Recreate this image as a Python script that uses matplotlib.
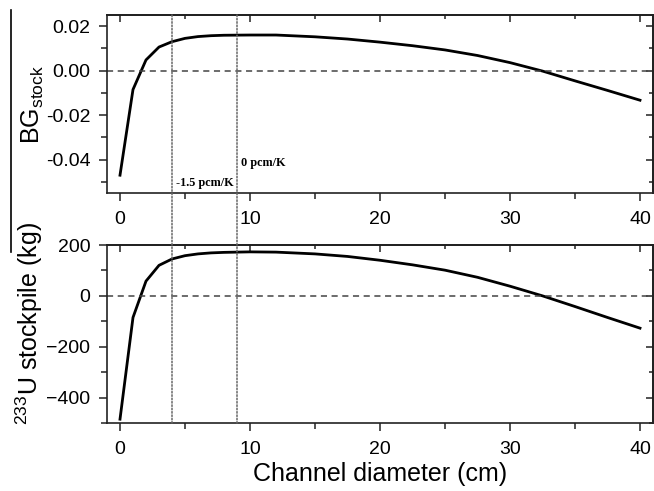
import numpy as np
import matplotlib
matplotlib.use('Agg')
import matplotlib.pyplot as plt
from matplotlib.patches import ConnectionPatch
from matplotlib.lines import Line2D
from matplotlib.ticker import MultipleLocator, FormatStrFormatter

plt.rcParams['font.family'] = ['Liberation Sans', 'DejaVu Sans']
plt.rcParams['mathtext.fontset'] = 'custom'
plt.rcParams['mathtext.rm'] = 'Liberation Sans'

diameter = [0, 1, 2, 3, 4, 5, 6, 7, 8, 10, 12, 15, 17.5, 20, 22.5, 25, 27.5, 30, 32.5, 35, 37.5, 40]
bg_stock = [-0.047, -0.0085, 0.0048, 0.0106, 0.0130, 0.0145, 0.0153, 0.0157, 0.0159, 0.0160, 0.0160,
            0.0152, 0.0142, 0.0128, 0.0112, 0.0093, 0.0068, 0.0036, -0.0002, -0.0046, -0.0089, -0.0133]
u233_stock = [-485, -85, 58, 120, 145, 158, 165, 169, 171, 173, 172,
              165, 155, 140, 122, 101, 73, 38, 0, -42, -85, -127]
marker_x = [4, 9]
marker_labels = ['-1.5 pcm/K', '0 pcm/K']
marker_y = [-0.0505, -0.0415]

fig = plt.figure(figsize=(6.54, 4.91), dpi=100)
ax1 = fig.add_axes([107/654, 1-193/491, 546/654, 178/491])
ax2 = fig.add_axes([107/654, 1-423/491, 546/654, 178/491])

ax1.plot(diameter, bg_stock, color='black', lw=2)
ax2.plot(diameter, u233_stock, color='black', lw=2)
for ax in (ax1, ax2):
    ax.axhline(0, color='#444444', lw=1.1, ls=(0, (4, 3)))
    ax.set_xlim(-1, 41)
    ax.xaxis.set_major_locator(MultipleLocator(10))
    ax.xaxis.set_minor_locator(MultipleLocator(5))
    for s in ax.spines.values():
        s.set_linewidth(1.2)
        s.set_color('#222222')
    ax.tick_params(which='both', direction='out', labelsize=14, width=1.1, color='#222222')
    ax.tick_params(which='major', length=6, pad=7)
    ax.tick_params(which='minor', length=4)
    ax.tick_params(axis='y', pad=6)
    # mirrored ticks on top, pointing in
    sx = ax.secondary_xaxis('top')
    sx.xaxis.set_major_locator(MultipleLocator(10))
    sx.xaxis.set_minor_locator(MultipleLocator(5))
    sx.tick_params(which='both', direction='in', labeltop=False, width=1.1, color='#222222')
    sx.tick_params(which='major', length=5)
    sx.tick_params(which='minor', length=3)
    sx.spines['top'].set_linewidth(1.2)

ax1.set_ylim(-0.055, 0.025)
ax1.yaxis.set_major_locator(MultipleLocator(0.02))
ax1.yaxis.set_minor_locator(MultipleLocator(0.01))
ax1.yaxis.set_major_formatter(FormatStrFormatter('%.2f'))
ax2.set_ylim(-500, 200)
ax2.yaxis.set_major_locator(MultipleLocator(200))
ax2.yaxis.set_minor_locator(MultipleLocator(100))

for ax, maj, mnr in ((ax1, 0.02, 0.01), (ax2, 200, 100)):
    sy = ax.secondary_yaxis('right')
    sy.yaxis.set_major_locator(MultipleLocator(maj))
    sy.yaxis.set_minor_locator(MultipleLocator(mnr))
    sy.tick_params(which='both', direction='in', labelright=False, width=1.1, color='#222222')
    sy.tick_params(which='major', length=5)
    sy.tick_params(which='minor', length=3)
    sy.spines['right'].set_linewidth(1.2)

ax1.set_ylabel(r'BG$_{\mathrm{stock}}$', fontsize=18)
ax1.yaxis.set_label_coords(-0.112, 0.5)
ax2.set_ylabel(r'$^{233}$U stockpile (kg)', fontsize=18)
ax2.yaxis.set_label_coords(-0.114, 0.56)
ax2.set_xlabel('Channel diameter (cm)', fontsize=18, labelpad=3)

# vertical dotted markers through both panels
for xv in marker_x:
    con = ConnectionPatch(xyA=(xv, 0.025), coordsA='data', axesA=ax1,
                          xyB=(xv, -500), coordsB='data', axesB=ax2,
                          color='#666666', lw=1.1, ls=(0, (1, 1.2)))
    fig.add_artist(con)

for xv, yv, lab in zip(marker_x, marker_y, marker_labels):
    ax1.text(xv + 0.3, yv, lab, family='Liberation Serif',
             fontweight='bold', fontsize=8.8, va='center', ha='left')

fig.add_artist(Line2D([11/654, 11/654], [1-10/491, 1-252/491], color='black', lw=1.2))

fig.savefig('out.png', dpi=100)
